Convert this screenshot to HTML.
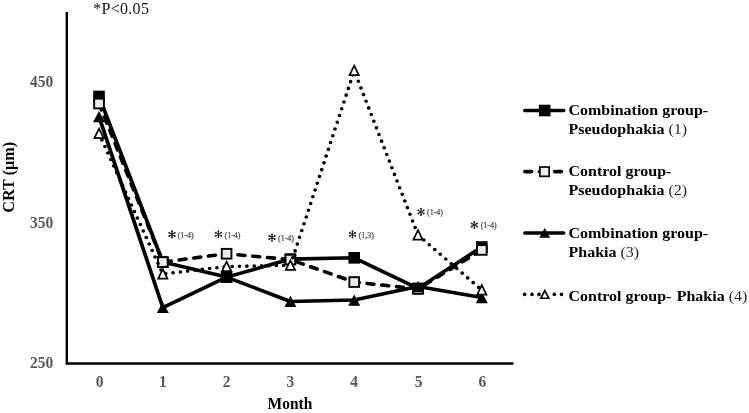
<!DOCTYPE html>
<html><head><meta charset="utf-8"><style>
html,body{margin:0;padding:0;background:#fff;}
body{width:749px;height:413px;position:relative;overflow:hidden;}
svg{position:absolute;left:0;top:0;will-change:transform;}
text{font-family:"Liberation Serif",serif;}
.tick{font-weight:bold;fill:#595959;font-size:15.5px;}
.axt{font-weight:bold;fill:#000;font-size:15.5px;}
.pv{fill:#111;font-size:16px;letter-spacing:0.3px;}
.leg{font-weight:bold;fill:#000;font-size:16px;}
.par{font-weight:normal;fill:#222;}
.ann{fill:#464646;font-size:8px;stroke:#464646;stroke-width:0.2px;}
</style></head><body>
<svg width="749" height="413" viewBox="0 0 749 413">
<path d="M66.8,12 V363.5 H513.4" fill="none" stroke="#000" stroke-width="2.4"/>
<g transform="scale(1.037,1)"><polyline points="95.47,96.47 156.99,262.05 218.51,277.11 280.04,259.09 341.56,257.82 403.09,288.38 464.61,246.98" fill="none" stroke="#000" stroke-width="3.6" stroke-linejoin="round" /></g>
<rect x="93.20" y="90.67" width="11.60" height="11.60" fill="#000"/>
<rect x="157.00" y="256.25" width="11.60" height="11.60" fill="#000"/>
<rect x="220.80" y="271.31" width="11.60" height="11.60" fill="#000"/>
<rect x="284.60" y="253.29" width="11.60" height="11.60" fill="#000"/>
<rect x="348.40" y="252.02" width="11.60" height="11.60" fill="#000"/>
<rect x="412.20" y="282.58" width="11.60" height="11.60" fill="#000"/>
<rect x="476.00" y="241.18" width="11.60" height="11.60" fill="#000"/>
<g transform="scale(1.037,1)"><polyline points="95.47,103.51 156.99,262.05 218.51,253.74 280.04,259.65 341.56,282.04 403.09,288.94 464.61,249.94" fill="none" stroke="#000" stroke-width="3.6" stroke-linejoin="round" stroke-dasharray="6.6 7.7" stroke-dashoffset="14.18" stroke-linecap="round"/></g>
<rect x="94.15" y="98.66" width="9.70" height="9.70" fill="#ececec" stroke="#000" stroke-width="1.9"/>
<rect x="157.95" y="257.20" width="9.70" height="9.70" fill="#ececec" stroke="#000" stroke-width="1.9"/>
<rect x="221.75" y="248.89" width="9.70" height="9.70" fill="#ececec" stroke="#000" stroke-width="1.9"/>
<rect x="285.55" y="254.80" width="9.70" height="9.70" fill="#ececec" stroke="#000" stroke-width="1.9"/>
<rect x="349.35" y="277.19" width="9.70" height="9.70" fill="#ececec" stroke="#000" stroke-width="1.9"/>
<rect x="413.15" y="284.09" width="9.70" height="9.70" fill="#ececec" stroke="#000" stroke-width="1.9"/>
<rect x="476.95" y="245.09" width="9.70" height="9.70" fill="#ececec" stroke="#000" stroke-width="1.9"/>
<g transform="scale(1.037,1)"><polyline points="95.47,116.60 156.99,307.52 218.51,277.11 280.04,301.47 341.56,300.06 403.09,286.60 464.61,297.53" fill="none" stroke="#000" stroke-width="3.6" stroke-linejoin="round" /></g>
<polygon points="99.00,111.00 105.00,122.20 93.00,122.20" fill="#000"/>
<polygon points="162.80,301.92 168.80,313.12 156.80,313.12" fill="#000"/>
<polygon points="226.60,271.51 232.60,282.71 220.60,282.71" fill="#000"/>
<polygon points="290.40,295.87 296.40,307.07 284.40,307.07" fill="#000"/>
<polygon points="354.20,294.46 360.20,305.66 348.20,305.66" fill="#000"/>
<polygon points="418.00,281.00 424.00,292.20 412.00,292.20" fill="#000"/>
<polygon points="481.80,291.93 487.80,303.13 475.80,303.13" fill="#000"/>
<g transform="scale(1.037,1)" stroke="#000" stroke-width="3.6" stroke-dasharray="0 7.1" stroke-linecap="round"><line x1="95.47" y1="133.50" x2="156.99" y2="274.01" stroke-dashoffset="0.04"/><line x1="156.99" y1="274.01" x2="218.51" y2="266.55" stroke-dashoffset="4.24"/><line x1="218.51" y1="266.55" x2="280.04" y2="265.28" stroke-dashoffset="1.76"/><line x1="280.04" y1="265.28" x2="341.56" y2="70.56" stroke-dashoffset="6.20"/><line x1="341.56" y1="70.56" x2="403.09" y2="235.01" stroke-dashoffset="2.74"/><line x1="403.09" y1="235.01" x2="464.61" y2="290.07" stroke-dashoffset="6.68"/></g>
<polygon points="99.00,128.62 103.62,138.08 94.38,138.08" fill="#fff" stroke="#000" stroke-width="1.7" stroke-linejoin="miter" stroke-miterlimit="3"/>
<polygon points="162.80,269.13 167.43,278.59 158.18,278.59" fill="#fff" stroke="#000" stroke-width="1.7" stroke-linejoin="miter" stroke-miterlimit="3"/>
<polygon points="226.60,261.67 231.22,271.13 221.97,271.13" fill="#fff" stroke="#000" stroke-width="1.7" stroke-linejoin="miter" stroke-miterlimit="3"/>
<polygon points="290.40,260.40 295.02,269.86 285.77,269.86" fill="#fff" stroke="#000" stroke-width="1.7" stroke-linejoin="miter" stroke-miterlimit="3"/>
<polygon points="354.20,65.68 358.82,75.14 349.57,75.14" fill="#fff" stroke="#000" stroke-width="1.7" stroke-linejoin="miter" stroke-miterlimit="3"/>
<polygon points="418.00,230.13 422.62,239.59 413.38,239.59" fill="#fff" stroke="#000" stroke-width="1.7" stroke-linejoin="miter" stroke-miterlimit="3"/>
<polygon points="481.80,285.19 486.42,294.65 477.17,294.65" fill="#fff" stroke="#000" stroke-width="1.7" stroke-linejoin="miter" stroke-miterlimit="3"/>
<line x1="524.8" y1="110.5" x2="563.7" y2="110.5" stroke="#000" stroke-width="3.6" stroke-linecap="round"/>
<rect x="538.90" y="104.70" width="11.60" height="11.60" fill="#000"/>
<line x1="524.8" y1="171.6" x2="531.6" y2="171.6" stroke="#000" stroke-width="3.6" stroke-linecap="round"/>
<line x1="554.5999999999999" y1="171.6" x2="561.4000000000001" y2="171.6" stroke="#000" stroke-width="3.6" stroke-linecap="round"/>
<circle cx="539.2" cy="171.6" r="1.6" fill="#000"/>
<rect x="539.85" y="167.05" width="9.30" height="9.30" fill="#ececec" stroke="#000" stroke-width="1.7"/>
<line x1="524.8" y1="233" x2="563.7" y2="233" stroke="#000" stroke-width="3.6" stroke-linecap="round"/>
<polygon points="544.70,228.10 550.10,237.70 539.30,237.70" fill="#000"/>
<circle cx="524.6" cy="294.4" r="1.8" fill="#000"/>
<circle cx="532.0" cy="294.4" r="1.8" fill="#000"/>
<circle cx="539.0" cy="294.4" r="1.8" fill="#000"/>
<circle cx="554.3" cy="294.4" r="1.8" fill="#000"/>
<circle cx="561.5" cy="294.4" r="1.8" fill="#000"/>
<polygon points="544.80,290.67 548.73,298.23 540.88,298.23" fill="#fff" stroke="#000" stroke-width="1.7" stroke-linejoin="miter" stroke-miterlimit="3"/>
<text transform="translate(99.6,386.6) scale(1,1.07)" class="tick" text-anchor="middle" >0</text>
<text transform="translate(162.8,386.6) scale(1,1.07)" class="tick" text-anchor="middle" >1</text>
<text transform="translate(226.6,386.6) scale(1,1.07)" class="tick" text-anchor="middle" >2</text>
<text transform="translate(290.4,386.6) scale(1,1.07)" class="tick" text-anchor="middle" >3</text>
<text transform="translate(354.2,386.6) scale(1,1.07)" class="tick" text-anchor="middle" >4</text>
<text transform="translate(418.6,386.6) scale(1,1.07)" class="tick" text-anchor="middle" >5</text>
<text transform="translate(482.3,386.6) scale(1,1.07)" class="tick" text-anchor="middle" >6</text>
<text transform="translate(53.2,86.5) scale(1,1.07)" class="tick" text-anchor="end" >450</text>
<text transform="translate(53.2,227.6) scale(1,1.07)" class="tick" text-anchor="end" >350</text>
<text transform="translate(53.2,368.2) scale(1,1.07)" class="tick" text-anchor="end" >250</text>
<text transform="translate(290,408.7) scale(1,1.07)" class="axt" text-anchor="middle" >Month</text>
<text transform="translate(14.1,177.3) rotate(-90)" class="axt" style="font-size:16.2px" text-anchor="middle">CRT (μm)</text>
<text x="93.2" y="13.9" class="pv" text-anchor="start" >*P&lt;0.05</text>
<text transform="translate(568.5,115) scale(1,0.95)" class="leg" text-anchor="start" >Combination group-</text>
<text transform="translate(568.5,134) scale(1,0.95)" class="leg" text-anchor="start" >Pseudophakia <tspan class="par">(1)</tspan></text>
<text transform="translate(568.5,176.4) scale(1,0.95)" class="leg" text-anchor="start" >Control group-</text>
<text transform="translate(568.5,194.5) scale(1,0.95)" class="leg" text-anchor="start" >Pseudophakia <tspan class="par">(2)</tspan></text>
<text transform="translate(568.5,238.2) scale(1,0.95)" class="leg" text-anchor="start" >Combination group-</text>
<text transform="translate(568.5,257) scale(1,0.95)" class="leg" text-anchor="start" >Phakia <tspan class="par">(3)</tspan></text>
<text transform="translate(568.5,300.6) scale(1,0.95)" class="leg" text-anchor="start" >Control group-<tspan dx="5.3">Phakia</tspan> <tspan class="par">(4)</tspan></text>
<g fill="#262626"><path d="M172.00,231.00L172.00,237.80M169.06,232.70L174.94,236.10M174.94,232.70L169.06,236.10" stroke="#262626" stroke-width="1.05" stroke-linecap="round" fill="none"/><circle cx="174.68" cy="235.95" r="0.95"/><circle cx="172.00" cy="237.50" r="0.95"/><circle cx="169.32" cy="235.95" r="0.95"/><circle cx="169.32" cy="232.85" r="0.95"/><circle cx="172.00" cy="231.30" r="0.95"/><circle cx="174.68" cy="232.85" r="0.95"/><circle cx="172" cy="234.4" r="0.9"/></g>
<text x="177.7" y="238.4" class="ann">(1-4)</text>
<g fill="#262626"><path d="M218.40,230.90L218.40,237.70M215.46,232.60L221.34,236.00M221.34,232.60L215.46,236.00" stroke="#262626" stroke-width="1.05" stroke-linecap="round" fill="none"/><circle cx="221.08" cy="235.85" r="0.95"/><circle cx="218.40" cy="237.40" r="0.95"/><circle cx="215.72" cy="235.85" r="0.95"/><circle cx="215.72" cy="232.75" r="0.95"/><circle cx="218.40" cy="231.20" r="0.95"/><circle cx="221.08" cy="232.75" r="0.95"/><circle cx="218.4" cy="234.3" r="0.9"/></g>
<text x="224.5" y="238.29999999999998" class="ann">(1-4)</text>
<g fill="#262626"><path d="M272.00,234.10L272.00,240.90M269.06,235.80L274.94,239.20M274.94,235.80L269.06,239.20" stroke="#262626" stroke-width="1.05" stroke-linecap="round" fill="none"/><circle cx="274.68" cy="239.05" r="0.95"/><circle cx="272.00" cy="240.60" r="0.95"/><circle cx="269.32" cy="239.05" r="0.95"/><circle cx="269.32" cy="235.95" r="0.95"/><circle cx="272.00" cy="234.40" r="0.95"/><circle cx="274.68" cy="235.95" r="0.95"/><circle cx="272" cy="237.5" r="0.9"/></g>
<text x="278" y="240.7" class="ann">(1-4)</text>
<g fill="#262626"><path d="M352.50,230.90L352.50,237.70M349.56,232.60L355.44,236.00M355.44,232.60L349.56,236.00" stroke="#262626" stroke-width="1.05" stroke-linecap="round" fill="none"/><circle cx="355.18" cy="235.85" r="0.95"/><circle cx="352.50" cy="237.40" r="0.95"/><circle cx="349.82" cy="235.85" r="0.95"/><circle cx="349.82" cy="232.75" r="0.95"/><circle cx="352.50" cy="231.20" r="0.95"/><circle cx="355.18" cy="232.75" r="0.95"/><circle cx="352.5" cy="234.3" r="0.9"/></g>
<text x="358.7" y="238.1" class="ann">(1,3)</text>
<g fill="#262626"><path d="M421.00,208.50L421.00,215.30M418.06,210.20L423.94,213.60M423.94,210.20L418.06,213.60" stroke="#262626" stroke-width="1.05" stroke-linecap="round" fill="none"/><circle cx="423.68" cy="213.45" r="0.95"/><circle cx="421.00" cy="215.00" r="0.95"/><circle cx="418.32" cy="213.45" r="0.95"/><circle cx="418.32" cy="210.35" r="0.95"/><circle cx="421.00" cy="208.80" r="0.95"/><circle cx="423.68" cy="210.35" r="0.95"/><circle cx="421" cy="211.9" r="0.9"/></g>
<text x="427" y="215.4" class="ann">(1-4)</text>
<g fill="#262626"><path d="M474.30,221.60L474.30,228.40M471.36,223.30L477.24,226.70M477.24,223.30L471.36,226.70" stroke="#262626" stroke-width="1.05" stroke-linecap="round" fill="none"/><circle cx="476.98" cy="226.55" r="0.95"/><circle cx="474.30" cy="228.10" r="0.95"/><circle cx="471.62" cy="226.55" r="0.95"/><circle cx="471.62" cy="223.45" r="0.95"/><circle cx="474.30" cy="221.90" r="0.95"/><circle cx="476.98" cy="223.45" r="0.95"/><circle cx="474.3" cy="225" r="0.9"/></g>
<text x="480.7" y="228.4" class="ann">(1-4)</text>
</svg>
</body></html>
